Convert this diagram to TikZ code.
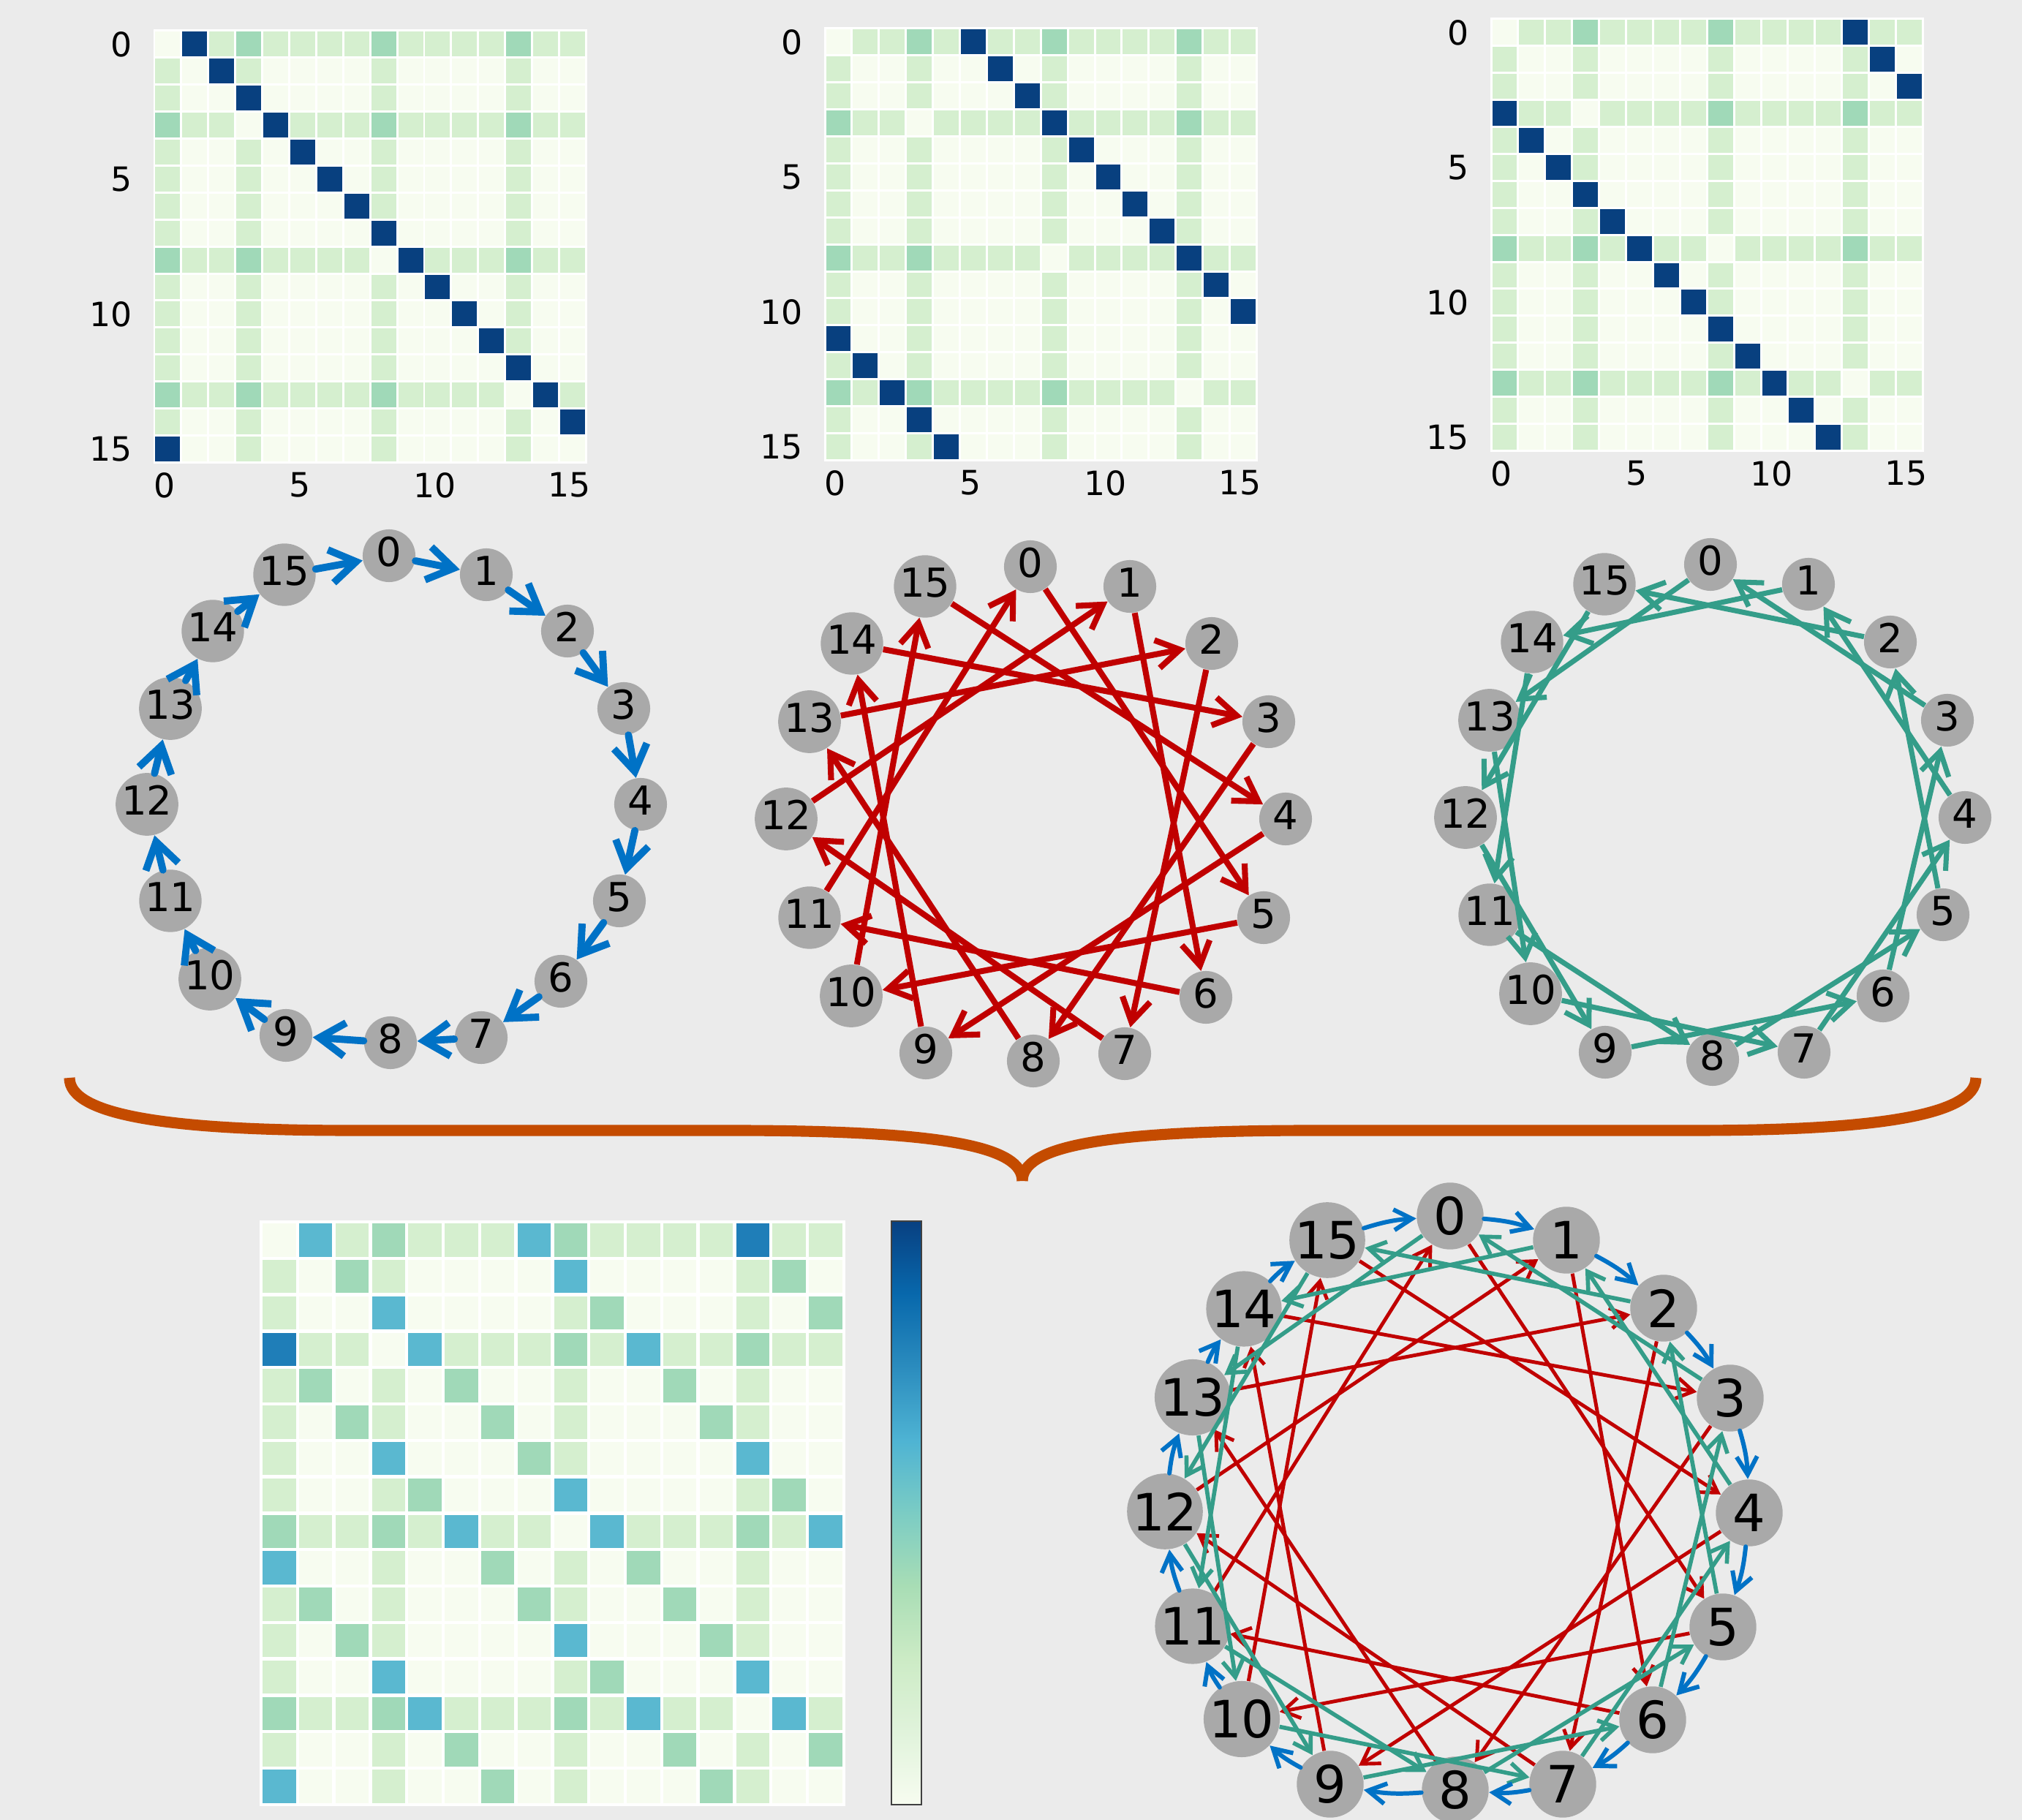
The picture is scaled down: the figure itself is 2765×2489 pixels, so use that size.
\documentclass[tikz,border=0pt]{standalone}
\usepackage{fontspec}
\setmainfont{DejaVu Sans}
\usetikzlibrary{arrows.meta}

\definecolor{hintergrund}{RGB}{235,235,235}
\definecolor{stufe0}{HTML}{F7FCF0}
\definecolor{stufe1}{HTML}{D5EFCF}
\definecolor{stufe2}{HTML}{A0D9B8}
\definecolor{stufe3}{HTML}{5AB8D0}
\definecolor{stufe4}{HTML}{1F7EB8}
\definecolor{permblau}{HTML}{08407F}
\definecolor{blau}{RGB}{0,114,198}
\definecolor{rot}{RGB}{192,0,0}
\definecolor{gruen}{RGB}{52,157,137}
\definecolor{knotengrau}{HTML}{A9A9A9}
\definecolor{klammer}{RGB}{196,75,0}
% GnBu fuer die Farbskala
\definecolor{gnbu0}{HTML}{F7FCF0}
\definecolor{gnbu1}{HTML}{E0F3DB}
\definecolor{gnbu2}{HTML}{CCEBC5}
\definecolor{gnbu3}{HTML}{A8DDB5}
\definecolor{gnbu4}{HTML}{7BCCC4}
\definecolor{gnbu5}{HTML}{4EB3D3}
\definecolor{gnbu6}{HTML}{2B8CBE}
\definecolor{gnbu7}{HTML}{0868AC}
\definecolor{gnbu8}{HTML}{084081}

\tikzset{
  knoten/.style={circle, fill=knotengrau, inner sep=0pt, minimum size=20.5pt,
    text depth=3pt, font=\fontsize{15.5}{16}\selectfont},
  grossknoten/.style={circle, fill=knotengrau, inner sep=0pt, minimum size=26pt,
    font=\fontsize{20}{22}\selectfont},
  achse/.style={inner sep=0pt, font=\fontsize{13}{14}\selectfont},
  zelle/.style={draw=white, line width=0.85pt},
  grosszelle/.style={draw=white, line width=1.2pt},
  blaupfeil/.style={blau, line width=2.8pt, line cap=round, -{Straight Barb[length=10pt,width=13pt]}},
  rotpfeil/.style={rot, line width=2.3pt, -{Straight Barb[length=9pt,width=11pt]}},
  gruenpfeil/.style={gruen, line width=2pt, -{Straight Barb[length=9pt,width=11pt]}},
  blaubogen/.style={blau, line width=1.7pt, line cap=round, bend left=7, -{Straight Barb[length=7pt,width=8pt]}},
  rotklein/.style={rot, line width=1.4pt, -{Straight Barb[length=6.5pt,width=8pt]}},
  gruenklein/.style={gruen, line width=1.6pt, -{Straight Barb[length=6.5pt,width=8pt]}}
}

\begin{document}
\begin{tikzpicture}[x=0.01cm, y=-0.01cm]
  \useasboundingbox (0,0) rectangle (2765,2489);
  \fill[hintergrund] (0,0) rectangle (2765,2489);

  % Permutationsmatrizen oben
  \foreach \mx/\my/\sh in {211/42/1, 1128/39/5, 2039/26/13} {
    \foreach \r in {0,...,15} {
      \foreach \c in {0,...,15} {
        \pgfmathtruncatemacro\wert{(\r!=\c)*((\r==0)+(\r==3)+(\r==8)+(\r==13)+(\c==0)+(\c==3)+(\c==8)+(\c==13))}
        \pgfmathtruncatemacro\perm{mod(\r+\sh,16)==\c}
        \ifnum\perm=1 \def\farbe{permblau}\else \def\farbe{stufe\wert}\fi
        \filldraw[zelle, fill=\farbe] ({\mx+36.9*\c},{\my+36.9*\r}) rectangle ++(36.9,36.9);
      }
    }
    % Achsenbeschriftung
    \foreach \k in {0,5,10,15} {
      \node[achse, anchor=east] (ly\sh-\k) at ({\mx-30},{\my+36.9*(\k+0.5)}) {\k};
      \node[achse, anchor=north] (lx\sh-\k) at ({\mx+36.9*(\k+0.5)-4},{\my+36.9*16+13}) {\k};
    }
  }

  % Graph 1: i -> i+1
  \foreach \i/\px/\py in {0/532/760, 1/665/786, 2/776/863, 3/853/969, 4/876/1100, 5/847/1232,
      6/767/1342, 7/658/1419, 8/534/1426, 9/391/1416, 10/287/1339, 11/233/1232,
      12/201/1100, 13/233/969, 14/291/863, 15/389/786}
    \node[knoten] (a\i) at (\px,\py) {\i};
  \foreach \i in {0,...,15} {
    \pgfmathtruncatemacro\j{mod(\i+1,16)}
    \draw[blaupfeil] (a\i) -- (a\j);
  }

  % Graph 2: i -> i+5
  \foreach \i/\px/\py in {0/1409/775, 1/1545/802, 2/1657/880, 3/1735/987, 4/1758/1120, 5/1728/1255,
      6/1649/1364, 7/1538/1441, 8/1413/1451, 9/1266/1440, 10/1164/1362, 11/1107/1255,
      12/1075/1120, 13/1107/987, 14/1165/880, 15/1265/802}
    \node[knoten] (b\i) at (\px,\py) {\i};
  \foreach \i in {0,...,15} {
    \pgfmathtruncatemacro\j{mod(\i+5,16)}
    \draw[rotpfeil] (b\i) -- (b\j);
  }

  % Graph 3: i -> i-3
  \foreach \i/\px/\py in {0/2339/772, 1/2473/799, 2/2585/878, 3/2663/985, 4/2687/1118, 5/2657/1251,
      6/2575/1362, 7/2467/1439, 8/2342/1449, 9/2195/1439, 10/2093/1359, 11/2037/1251,
      12/2004/1118, 13/2037/985, 14/2095/878, 15/2194/799}
    \node[knoten] (c\i) at (\px,\py) {\i};
  \foreach \i in {0,...,15} {
    \pgfmathtruncatemacro\j{mod(\i+13,16)}
    \draw[gruenpfeil] (c\i) -- (c\j);
  }

  % Klammer
  \draw[klammer, line width=4.3pt] (95,1474) .. controls (95,1525) and (230,1546) .. (480,1546)
    -- (1000,1546) .. controls (1300,1546) and (1398,1570) .. (1398,1615);
  \draw[klammer, line width=4.3pt] (2702,1474) .. controls (2702,1525) and (2567,1546) .. (2317,1546)
    -- (1796,1546) .. controls (1496,1546) and (1398,1570) .. (1398,1615);

  % Summenmatrix unten
  \foreach \r in {0,...,15} {
    \foreach \c in {0,...,15} {
      \pgfmathtruncatemacro\wert{(\r!=\c)*((\r==0)+(\r==3)+(\r==8)+(\r==13)+(\c==0)+(\c==3)+(\c==8)+(\c==13))
        +2*((mod(\r+1,16)==\c)+(mod(\r+7,16)==\c)+(mod(\r+13,16)==\c))}
      \filldraw[grosszelle, fill=stufe\wert] ({357+49.8*\c},{1671+49.8*\r}) rectangle ++(49.8,49.8);
    }
  }

  % Farbskala
  \foreach \a/\b [count=\n from 0] in {gnbu0/gnbu1, gnbu1/gnbu2, gnbu2/gnbu3, gnbu3/gnbu4,
      gnbu4/gnbu5, gnbu5/gnbu6, gnbu6/gnbu7, gnbu7/gnbu8}
    \shade[bottom color=\a, top color=\b] (1219,{2468-99.75*(\n+1)-0.5}) rectangle (1260,{2468-99.75*\n});
  \draw[black!75, line width=0.6pt] (1219,1670) rectangle (1260,2468);

  % Gesamtgraph
  \foreach \i/\px/\py in {0/1983/1663, 1/2142/1696, 2/2275/1789, 3/2366/1912, 4/2392/2069, 5/2356/2225,
      6/2260/2352, 7/2137/2440, 8/1990/2448, 9/1819/2440, 10/1698/2351, 11/1631/2224,
      12/1593/2067, 13/1631/1911, 14/1701/1790, 15/1815/1696}
    \node[grossknoten] (d\i) at (\px,\py) {\i};
  \foreach \i in {0,...,15} {
    \pgfmathtruncatemacro\j{mod(\i+5,16)}
    \draw[rotklein] (d\i) -- (d\j);
  }
  \foreach \i in {0,...,15} {
    \pgfmathtruncatemacro\j{mod(\i+13,16)}
    \draw[gruenklein] (d\i) -- (d\j);
  }
  \foreach \i in {0,...,15} {
    \pgfmathtruncatemacro\j{mod(\i+1,16)}
    \draw[blaubogen] (d\i) to (d\j);
  }
\end{tikzpicture}
\end{document}
